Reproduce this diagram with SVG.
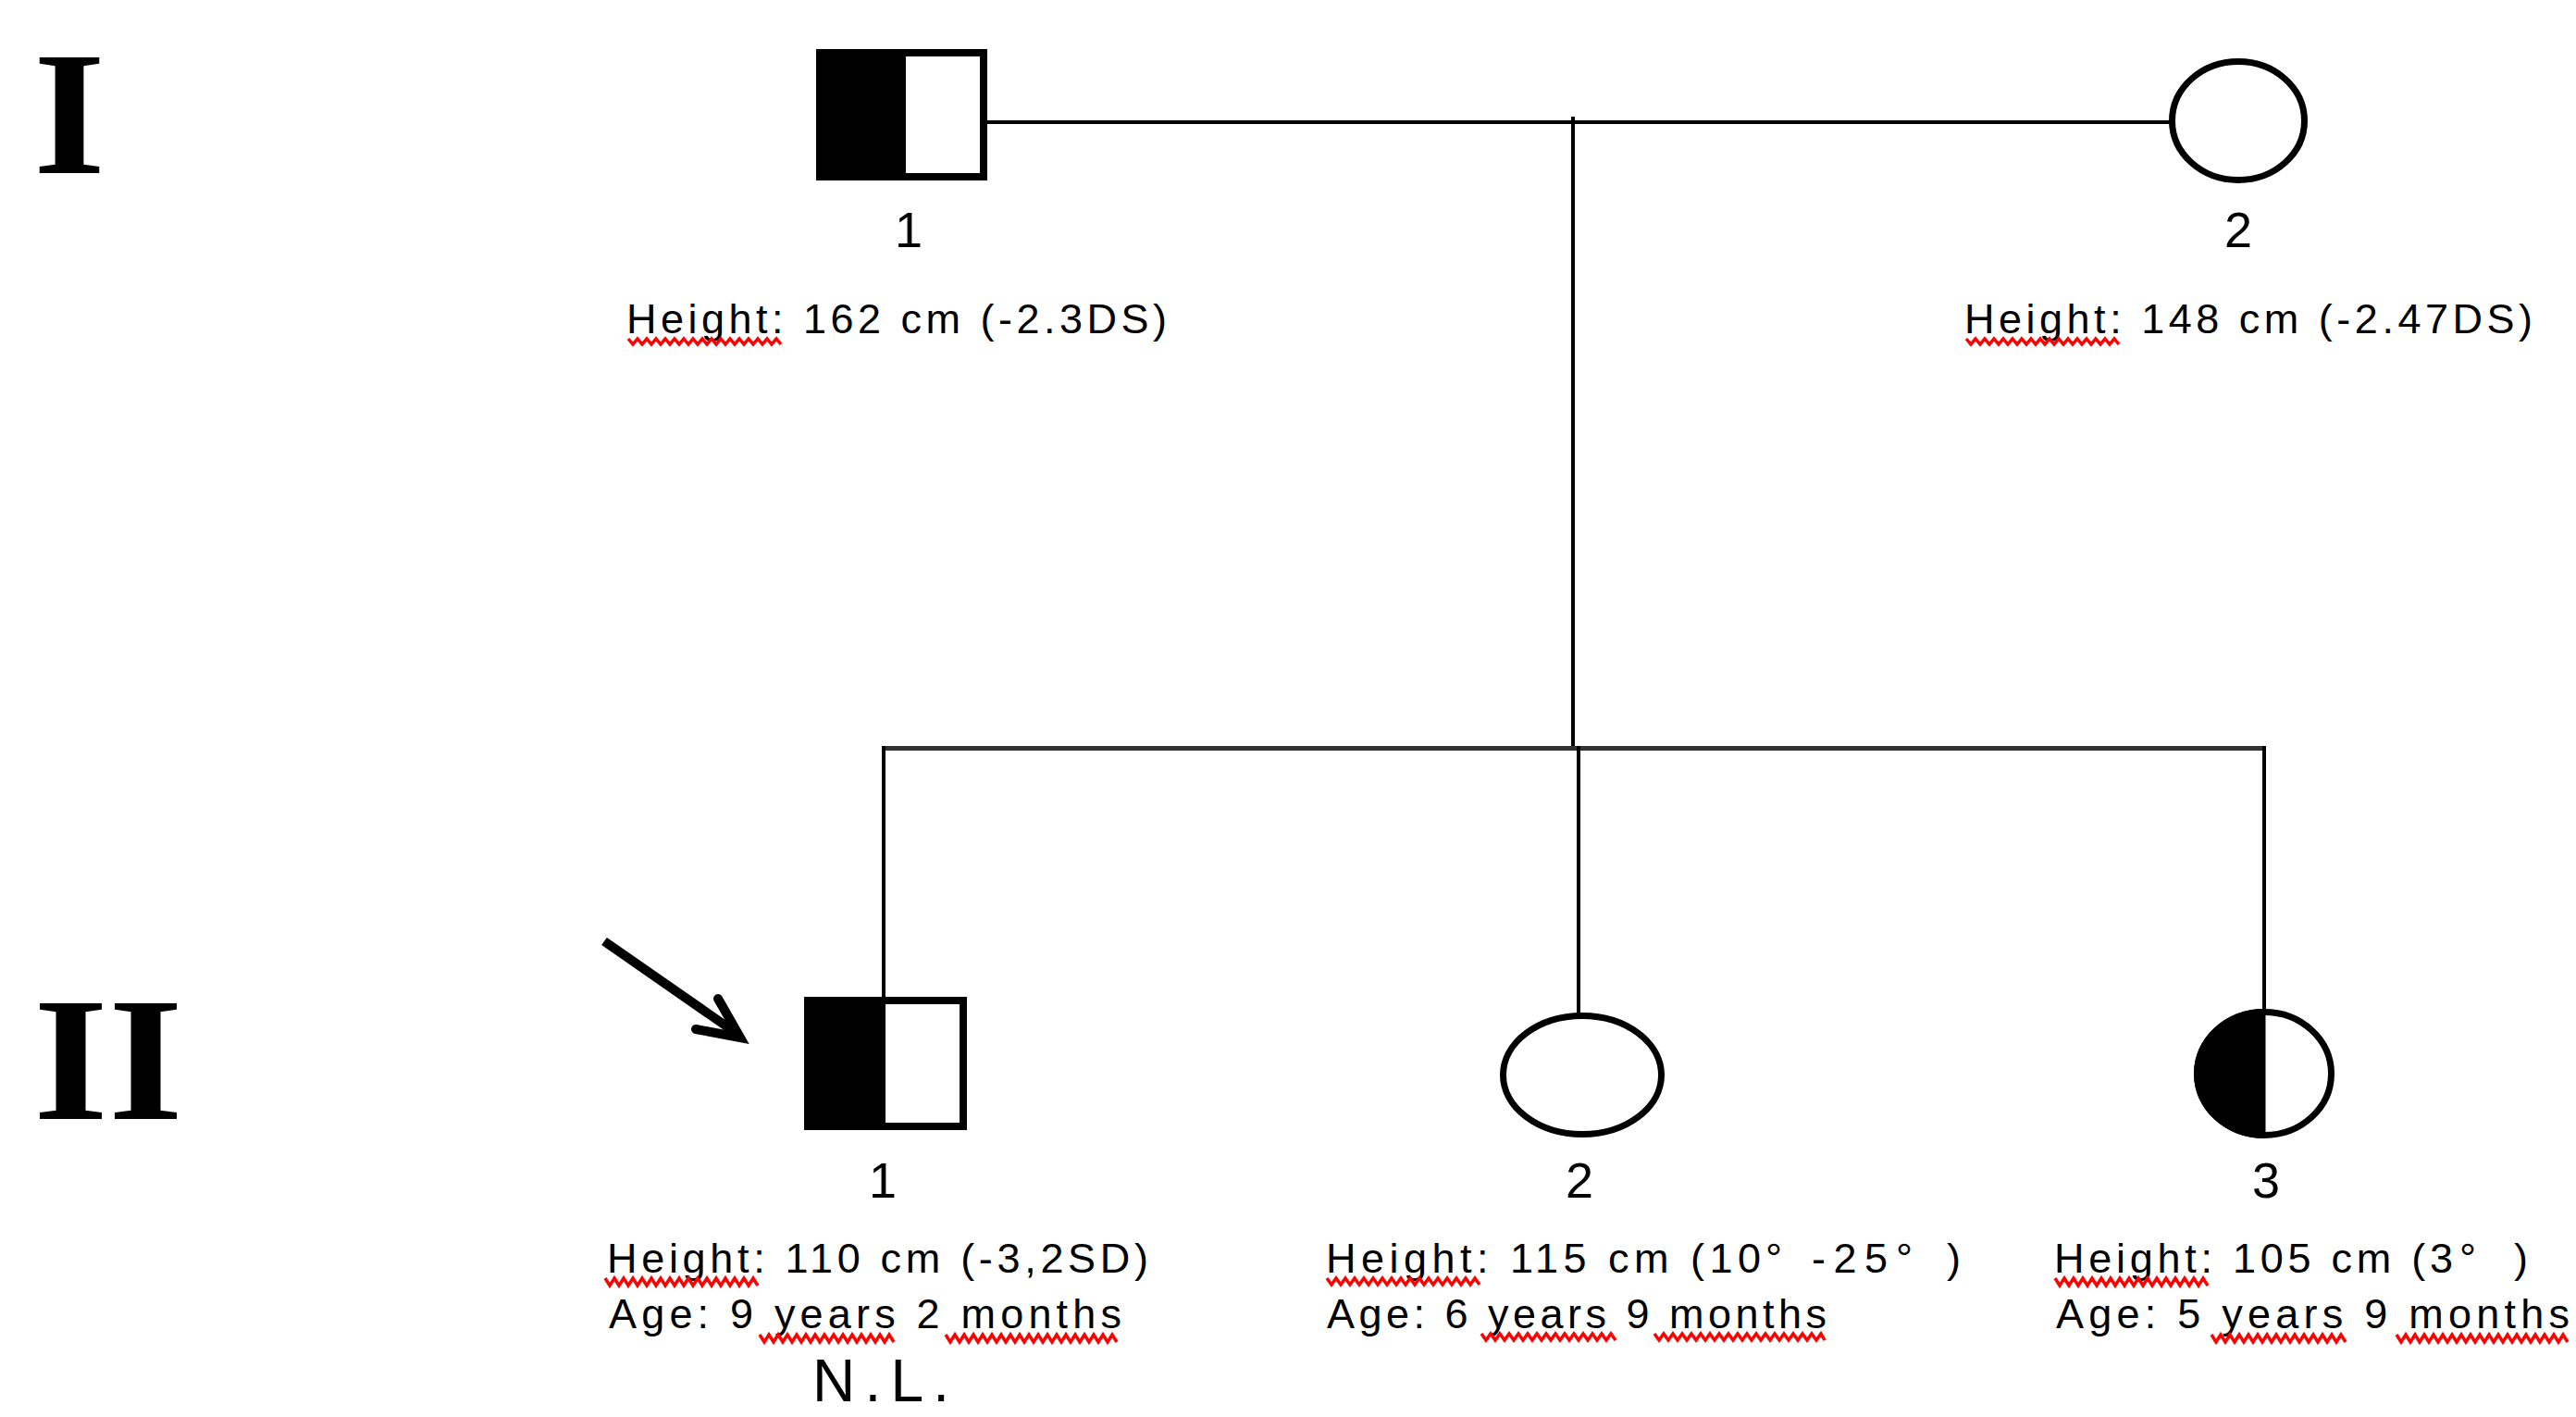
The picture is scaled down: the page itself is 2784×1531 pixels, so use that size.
<svg xmlns="http://www.w3.org/2000/svg" width="2784" height="1531" viewBox="0 0 2784 1531">
<style>
.t{font-family:"Liberation Sans",Arial,sans-serif;font-size:45px;fill:#000}
.n{font-family:"Liberation Sans",Arial,sans-serif;font-size:54px;fill:#000;text-anchor:middle}
.g{font-family:"Liberation Serif","Times New Roman",serif;font-size:190px;font-weight:bold;fill:#000}
.ln{stroke:#000;stroke-width:4;fill:none}
.sq{fill:none;stroke:#ff0000;stroke-width:3.5;stroke-linejoin:miter}
.sym{fill:#fff;stroke:#000;stroke-width:8}
.el{fill:#fff;stroke:#000;stroke-width:7}
</style>
<rect x="0" y="0" width="2784" height="1531" fill="#fff"/>

<g id="generation-labels">
<text class="g" x="36" y="187" textLength="78" lengthAdjust="spacingAndGlyphs">I</text>
<text class="g" x="36" y="1209" textLength="162" lengthAdjust="spacingAndGlyphs">II</text>
</g>

<g id="connectors">
<line class="ln" x1="1063" y1="132" x2="2346" y2="132"/>
<line class="ln" x1="1700" y1="126" x2="1700" y2="808"/>
<line x1="953" y1="808.5" x2="2449" y2="808.5" stroke="#333" stroke-width="5"/>
<line class="ln" x1="955" y1="806" x2="955" y2="1078"/>
<line class="ln" x1="1706" y1="806" x2="1706" y2="1096"/>
<line class="ln" x1="2447" y1="806" x2="2447" y2="1092"/>
</g>

<g id="proband-arrow">
<line x1="653" y1="1017" x2="794" y2="1115" stroke="#000" stroke-width="10"/>
<polyline points="776,1079 800,1121 752,1112" fill="none" stroke="#000" stroke-width="10" stroke-linecap="round" stroke-linejoin="miter"/>
</g>

<g id="I-1">
<rect class="sym" x="886" y="57" width="177" height="134" fill="none"/>
<rect x="882" y="53" width="97" height="142" fill="#000"/>
<text class="n" x="982" y="267">1</text>
<text class="t" x="677" y="360" textLength="584" lengthAdjust="spacing">Height: 162 cm (-2.3DS)</text>
<polyline class="sq" points="679,366 684,372 689,366 694,372 699,366 704,372 709,366 714,372 719,366 724,372 729,366 734,372 739,366 744,372 749,366 754,372 759,366 764,372 769,366 774,372 779,366 784,372 789,366 794,372 799,366 804,372 809,366 814,372 819,366 824,372 829,366 834,372 839,366 844,372"/>
</g>

<g id="I-2">
<ellipse class="el" cx="2419" cy="130.5" rx="71.5" ry="64"/>
<text class="n" x="2419" y="267">2</text>
<text class="t" x="2123" y="360" textLength="614" lengthAdjust="spacing">Height: 148 cm (-2.47DS)</text>
<polyline class="sq" points="2125,366 2130,372 2135,366 2140,372 2145,366 2150,372 2155,366 2160,372 2165,366 2170,372 2175,366 2180,372 2185,366 2190,372 2195,366 2200,372 2205,366 2210,372 2215,366 2220,372 2225,366 2230,372 2235,366 2240,372 2245,366 2250,372 2255,366 2260,372 2265,366 2270,372 2275,366 2280,372 2285,366 2290,372"/>
</g>

<g id="II-1">
<rect class="sym" x="873" y="1081" width="168" height="136" fill="#fff"/>
<rect x="869" y="1077" width="88" height="144" fill="#000"/>
<text class="n" x="954" y="1294">1</text>
<text class="t" x="656" y="1375" textLength="585" lengthAdjust="spacing">Height: 110 cm (-3,2SD)</text>
<text class="t" x="658" y="1435" textLength="554" lengthAdjust="spacing">Age: 9 years 2 months</text>
<polyline class="sq" points="654,1381 659,1389 664,1381 669,1389 674,1381 679,1389 684,1381 689,1389 694,1381 699,1389 704,1381 709,1389 714,1381 719,1389 724,1381 729,1389 734,1381 739,1389 744,1381 749,1389 754,1381 759,1389 764,1381 769,1389 774,1381 779,1389 784,1381 789,1389 794,1381 799,1389 804,1381 809,1389 814,1381 819,1389"/>
<polyline class="sq" points="821,1442 826,1450 831,1442 836,1450 841,1442 846,1450 851,1442 856,1450 861,1442 866,1450 871,1442 876,1450 881,1442 886,1450 891,1442 896,1450 901,1442 906,1450 911,1442 916,1450 921,1442 926,1450 931,1442 936,1450 941,1442 946,1450 951,1442 956,1450 961,1442 966,1450"/>
<polyline class="sq" points="1022,1442 1027,1450 1032,1442 1037,1450 1042,1442 1047,1450 1052,1442 1057,1450 1062,1442 1067,1450 1072,1442 1077,1450 1082,1442 1087,1450 1092,1442 1097,1450 1102,1442 1107,1450 1112,1442 1117,1450 1122,1442 1127,1450 1132,1442 1137,1450 1142,1442 1147,1450 1152,1442 1157,1450 1162,1442 1167,1450 1172,1442 1177,1450 1182,1442 1187,1450 1192,1442 1197,1450 1202,1442 1207,1450"/>
<text x="878" y="1514" font-family="Liberation Sans, Arial, sans-serif" font-size="64" textLength="148" lengthAdjust="spacing">N.L.</text>
</g>

<g id="II-2">
<ellipse class="el" cx="1710" cy="1161.5" rx="85.5" ry="64"/>
<text class="n" x="1707" y="1294">2</text>
<text class="t" x="1433" y="1375" textLength="470" lengthAdjust="spacing">Height: 115 cm (10</text>
<text class="t" x="1908" y="1375">°</text>
<text class="t" x="1958" y="1375" textLength="82" lengthAdjust="spacing">-25</text>
<text class="t" x="2049" y="1375">°</text>
<text class="t" x="2104" y="1375">)</text>
<text class="t" x="1434" y="1435" textLength="540" lengthAdjust="spacing">Age: 6 years 9 months</text>
<polyline class="sq" points="1434,1381 1439,1388 1444,1381 1449,1388 1454,1381 1459,1388 1464,1381 1469,1388 1474,1381 1479,1388 1484,1381 1489,1388 1494,1381 1499,1388 1504,1381 1509,1388 1514,1381 1519,1388 1524,1381 1529,1388 1534,1381 1539,1388 1544,1381 1549,1388 1554,1381 1559,1388 1564,1381 1569,1388 1574,1381 1579,1388 1584,1381 1589,1388 1594,1381 1599,1388"/>
<polyline class="sq" points="1601,1441 1606,1448 1611,1441 1616,1448 1621,1441 1626,1448 1631,1441 1636,1448 1641,1441 1646,1448 1651,1441 1656,1448 1661,1441 1666,1448 1671,1441 1676,1448 1681,1441 1686,1448 1691,1441 1696,1448 1701,1441 1706,1448 1711,1441 1716,1448 1721,1441 1726,1448 1731,1441 1736,1448 1741,1441 1746,1448"/>
<polyline class="sq" points="1788,1441 1793,1448 1798,1441 1803,1448 1808,1441 1813,1448 1818,1441 1823,1448 1828,1441 1833,1448 1838,1441 1843,1448 1848,1441 1853,1448 1858,1441 1863,1448 1868,1441 1873,1448 1878,1441 1883,1448 1888,1441 1893,1448 1898,1441 1903,1448 1908,1441 1913,1448 1918,1441 1923,1448 1928,1441 1933,1448 1938,1441 1943,1448 1948,1441 1953,1448 1958,1441 1963,1448 1968,1441 1972,1448"/>
</g>

<g id="II-3">
<ellipse class="el" cx="2447" cy="1160" rx="72.5" ry="66.5"/>
<path d="M2447,1090 A76,70 0 0 0 2447,1230 Z" fill="#000"/>
<line x1="2447" y1="1093" x2="2447" y2="1227" stroke="#000" stroke-width="3"/>
<text class="n" x="2449" y="1294">3</text>
<text class="t" x="2220" y="1375" textLength="431" lengthAdjust="spacing">Height: 105 cm (3</text>
<text class="t" x="2658" y="1375">°</text>
<text class="t" x="2717" y="1375">)</text>
<text class="t" x="2222" y="1435" textLength="555" lengthAdjust="spacing">Age: 5 years 9 months</text>
<polyline class="sq" points="2221,1381 2226,1389 2231,1381 2236,1389 2241,1381 2246,1389 2251,1381 2256,1389 2261,1381 2266,1389 2271,1381 2276,1389 2281,1381 2286,1389 2291,1381 2296,1389 2301,1381 2306,1389 2311,1381 2316,1389 2321,1381 2326,1389 2331,1381 2336,1389 2341,1381 2346,1389 2351,1381 2356,1389 2361,1381 2366,1389 2371,1381 2376,1389 2381,1381 2386,1389"/>
<polyline class="sq" points="2390,1442 2395,1450 2400,1442 2405,1450 2410,1442 2415,1450 2420,1442 2425,1450 2430,1442 2435,1450 2440,1442 2445,1450 2450,1442 2455,1450 2460,1442 2465,1450 2470,1442 2475,1450 2480,1442 2485,1450 2490,1442 2495,1450 2500,1442 2505,1450 2510,1442 2515,1450 2520,1442 2525,1450 2530,1442 2535,1450"/>
<polyline class="sq" points="2590,1442 2595,1450 2600,1442 2605,1450 2610,1442 2615,1450 2620,1442 2625,1450 2630,1442 2635,1450 2640,1442 2645,1450 2650,1442 2655,1450 2660,1442 2665,1450 2670,1442 2675,1450 2680,1442 2685,1450 2690,1442 2695,1450 2700,1442 2705,1450 2710,1442 2715,1450 2720,1442 2725,1450 2730,1442 2735,1450 2740,1442 2745,1450 2750,1442 2755,1450 2760,1442 2765,1450 2770,1442 2775,1450"/>
</g>
</svg>
